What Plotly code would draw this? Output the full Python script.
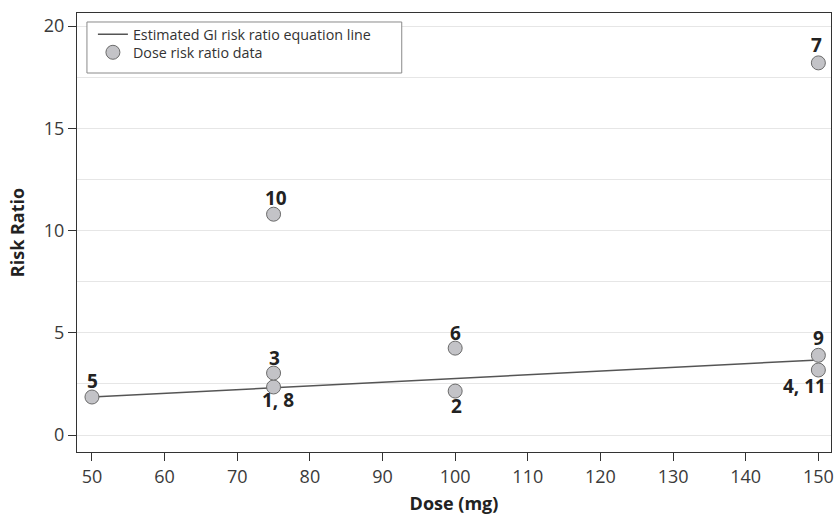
import plotly.graph_objects as go

# Data
dose = [50, 75, 75, 75, 100, 100, 150, 150, 150]
risk_ratio = [1.86, 2.35, 3.03, 10.8, 4.25, 2.15, 18.2, 3.9, 3.18]
point_labels = ["5", "1, 8", "3", "10", "6", "2", "7", "9", "4, 11"]

line_dose = [50, 150]
line_rr = [1.86, 3.67]

x_ticks = [50, 60, 70, 80, 90, 100, 110, 120, 130, 140, 150]
y_ticks = [0, 5, 10, 15, 20]

# label offsets (style only): (xshift, yshift)
label_offsets = {
    "5": (1, 16), "1, 8": (4, -13), "3": (1, 15), "10": (2, 16),
    "6": (0, 15), "2": (1, -15), "7": (-2, 18), "9": (0, 17), "4, 11": (-14, -16),
}

FONT = "Open Sans"

fig = go.Figure()
fig.add_trace(go.Scatter(
    x=line_dose, y=line_rr, mode="lines",
    line=dict(color="#555555", width=1.5),
    name="Estimated GI risk ratio equation line", legend="legend",
))
fig.add_trace(go.Scatter(
    x=dose, y=risk_ratio, mode="markers",
    marker=dict(size=14, color="#c3c3c7", line=dict(color="#6b6b6b", width=1)),
    name="Dose risk ratio data", cliponaxis=False, legend="legend2",
))

for xv, yv, lab in zip(dose, risk_ratio, point_labels):
    dx, dy = label_offsets[lab]
    fig.add_annotation(
        x=xv, y=yv, text="<b>%s</b>" % lab, showarrow=False,
        xshift=dx, yshift=dy,
        font=dict(family=FONT, size=19, color="#222222"),
    )

# legend frame
fig.add_shape(
    type="rect", xref="paper", yref="paper",
    x0=0.0132, x1=0.4307, y0=0.8633, y1=0.9795,
    line=dict(color="#8a8a8a", width=1), fillcolor="white", layer="above",
)

legend_common = dict(
    xanchor="left", yanchor="top",
    bgcolor="rgba(0,0,0,0)", borderwidth=0,
    font=dict(family=FONT, size=14.3, color="#333333"),
    itemwidth=30,
)

fig.update_layout(
    width=837, height=515,
    margin=dict(l=77, r=3, t=13, b=63),
    paper_bgcolor="white", plot_bgcolor="white",
    font=dict(family=FONT, color="#333333"),
    showlegend=True,
    legend=dict(x=0.0211, y=0.9875, **legend_common),
    legend2=dict(x=0.0211, y=0.9465, **legend_common),
    xaxis=dict(
        range=[47.94, 151.74], tickvals=x_ticks,
        showline=True, linecolor="#333333", linewidth=1, mirror=True,
        ticks="outside", ticklen=8, tickcolor="#333333",
        showgrid=False, zeroline=False,
        tickfont=dict(family=FONT, size=18, color="#3a3a3a"),
        title=dict(text="<b>Dose (mg)</b>", font=dict(family=FONT, size=18, color="#222222"), standoff=12),
    ),
    yaxis=dict(
        range=[-0.83, 20.64], tickvals=y_ticks,
        showline=True, linecolor="#333333", linewidth=1, mirror=True,
        ticks="outside", ticklen=8, tickcolor="#333333",
        showgrid=True, gridcolor="#e6e6e6", gridwidth=1, zeroline=False,
        minor=dict(dtick=2.5, tick0=0, showgrid=True, gridcolor="#e6e6e6", gridwidth=1),
        tickfont=dict(family=FONT, size=18, color="#3a3a3a"),
        title=dict(text="<b>Risk Ratio</b>", font=dict(family=FONT, size=18, color="#222222"), standoff=14),
    ),
)

fig.write_html(
    "out.html",
    config={"displayModeBar": False},
    post_script="document.body.style.margin='0';document.body.style.overflow='hidden';",
)
